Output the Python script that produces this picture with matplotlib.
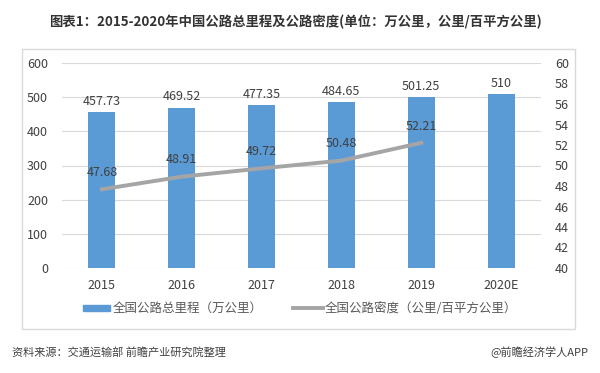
import matplotlib
matplotlib.use("Agg")
import matplotlib.pyplot as plt
from matplotlib.patches import Rectangle
from matplotlib.lines import Line2D
import numpy as np

plt.rcParams['font.family'] = ['Noto Sans CJK SC', 'DejaVu Sans']

years = ['2015', '2016', '2017', '2018', '2019', '2020E']
mileage = [457.73, 469.52, 477.35, 484.65, 501.25, 510]
density = [47.68, 48.91, 49.72, 50.48, 52.21]

title = '图表1：2015-2020年中国公路总里程及公路密度(单位：万公里，公里/百平方公里)'
legend_bar = '全国公路总里程（万公里）'
legend_line = '全国公路密度（公里/百平方公里）'
source = '资料来源：交通运输部 前瞻产业研究院整理'
credit = '@前瞻经济学人APP'

W, H = 600, 373
fig = plt.figure(figsize=(6, 3.73), dpi=100)

def fx(px): return px / W
def fy(py): return 1 - py / H

# outer border
fig.patches.append(Rectangle((fx(22), fy(329)), fx(575) - fx(22), fy(49) - fy(329),
                             transform=fig.transFigure, fill=False, ec='#d9d9d9', lw=1))

ax = fig.add_axes([fx(62), fy(268), fx(541) - fx(62), fy(63) - fy(268)])
x = np.arange(len(years))
ax.bar(x, mileage, width=0.34, color='#5B9BD5', zorder=2)
ax.set_ylim(0, 600)
ax.set_yticks(range(0, 601, 100))
ax.set_xlim(-0.5, len(years) - 0.5)
ax.set_xticks(x)
ax.set_xticklabels(years)
ax.grid(axis='y', color='#d9d9d9', lw=0.8, zorder=0)
for s in ax.spines.values():
    s.set_visible(False)
ax.tick_params(length=0, labelsize=9, colors='#404040')
ax.tick_params(axis='x', pad=8)
ax.tick_params(axis='y', pad=10)
for xi, v in zip(x, mileage):
    ax.text(xi, v + 12, f'{v:g}', ha='center', va='bottom', fontsize=9, color='#404040')

ax2 = ax.twinx()
ax2.set_ylim(40, 60)
ax2.set_yticks(range(40, 61, 2))
for s in ax2.spines.values():
    s.set_visible(False)
ax2.tick_params(length=0, labelsize=9, colors='#404040', pad=10)
xd = x[:len(density)]
ax2.plot(xd, density, color='#A5A5A5', lw=2.8, zorder=3)
for xi, v in zip(xd, density):
    ax2.text(xi, v + 1.0, f'{v:g}', ha='center', va='bottom', fontsize=9, color='#404040')

# legend
ly = 308
fig.patches.append(Rectangle((fx(83), fy(ly + 3)), fx(27), fy(ly - 3) - fy(ly + 3),
                             transform=fig.transFigure, color='#5B9BD5'))
fig.text(fx(113), fy(ly), legend_bar, fontsize=9, color='#595959', va='center', ha='left')
fig.lines.append(Line2D([fx(293), fx(323)], [fy(ly), fy(ly)], transform=fig.transFigure,
                        color='#A5A5A5', lw=2.8))
fig.text(fx(325), fy(ly), legend_line, fontsize=9, color='#595959', va='center', ha='left')

fig.text(fx(295), fy(22), title, fontsize=9.6, fontweight='bold', ha='center', va='center', color='#333333')
fig.text(fx(12), fy(352), source, fontsize=8, ha='left', va='center', color='#404040')
fig.text(fx(588), fy(352), credit, fontsize=8, ha='right', va='center', color='#404040')

fig.savefig('out.png', dpi=100)
